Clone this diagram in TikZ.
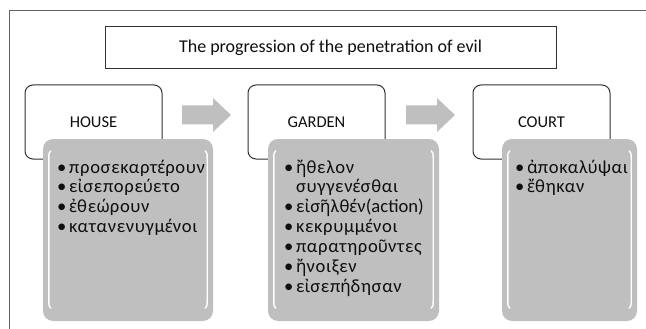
\documentclass[tikz,border=0pt]{standalone}
\usepackage{fontspec}
\setmainfont{Carlito}
\newfontfamily\grkfb[Scale=0.92]{Noto Sans}
\newfontfamily\lsfont[LetterSpace=3.5]{Carlito}
\newcommand{\gbd}[1]{{\grkfb\bfseries #1}}
\newcommand{\grg}[1]{{\grkfb #1}}
\newcommand{\itm}{\makebox[12pt][l]{\textbullet}}
\newcommand{\cnt}{\hspace*{12pt}}
\newenvironment{gklist}{\begin{minipage}[t]{160pt}\lsfont\fontsize{18.6}{19.9}\selectfont
  \lineskiplimit=-100pt\parindent=0pt\raggedright}{\end{minipage}}
\usetikzlibrary{calc}
\definecolor{boxgray}{RGB}{191,191,191}
\definecolor{framecol}{RGB}{100,100,100}
\definecolor{bordercol}{RGB}{50,50,50}
\definecolor{txtcol}{RGB}{15,15,15}
\tikzset{
  labelbox/.style={draw=bordercol, line width=1pt, rounded corners=8pt, fill=white,
    minimum width=137pt, minimum height=74pt, inner sep=0pt, text=txtcol,
    font=\fontsize{16.5}{20}\selectfont},
  titlebox/.style={draw=bordercol, line width=1pt, fill=white, minimum width=451pt,
    minimum height=42pt, inner sep=0pt, text=txtcol, font=\fontsize{18}{22}\selectfont},
  graybox/.style={fill=boxgray, rounded corners=10pt, inner sep=0pt, minimum height=182pt},
  blockarrow/.style={fill=boxgray},
  listtext/.style={anchor=base west, inner sep=0pt, text=txtcol},
  hl/.style={draw=white, line width=1.4pt, line cap=round},
  framel/.style={draw=framecol, line width=1pt}
}
\newcommand{\hilite}[1]{%
  \draw[hl] ($(#1.north west)+(8,12)$) .. controls ($(#1.north west)+(6,14)$) .. ($(#1.north west)+(6,21)$)
     -- ($(#1.south west)+(6,-22)$) .. controls ($(#1.south west)+(6,-15)$) .. ($(#1.south west)+(8,-13)$);
  \draw[hl] ($(#1.north east)+(-8,12)$) .. controls ($(#1.north east)+(-6,14)$) .. ($(#1.north east)+(-6,21)$)
     -- ($(#1.south east)+(-6,-22)$) .. controls ($(#1.south east)+(-6,-15)$) .. ($(#1.south east)+(-8,-13)$);
}
\newcommand{\blockarr}[1]{%
  \fill[blockarrow] (#1) ++(0,-9.5) -- ++(31,0) -- ++(0,-7.5) -- ++(18,17) -- ++(-18,17)
     -- ++(0,-7.5) -- ++(-31,0) -- cycle;
}
\begin{document}
\begin{tikzpicture}[x=1pt,y=-1pt]
\useasboundingbox (0,0) rectangle (646,329);
% frame
\coordinate (fbl) at (9,329);
\coordinate (ftl) at (9,11);
\coordinate (ftr) at (646,11);
\draw[framel] (fbl) -- (ftl) -- (ftr);
% title
\node[titlebox] (title) at (330.5,48) {The progression of the penetration of evil};
% label boxes
\node[labelbox] (house) at (93.5,122) {HOUSE};
\node[labelbox] (garden) at (316.5,122) {GARDEN};
\node[labelbox] (court) at (541.5,122) {COURT};
% arrows
\coordinate (arr1) at (182,115);
\coordinate (arr2) at (406,115);
\blockarr{arr1}
\blockarr{arr2}
% gray boxes
\node[graybox, minimum width=170pt] (hlist) at (128,230) {};
\node[graybox, minimum width=171pt] (glist) at (353.5,230) {};
\node[graybox, minimum width=135pt] (clist) at (569.5,230) {};
\hilite{hlist}
\hilite{glist}
\hilite{clist}
% lists
\node[listtext] (htext) at (57,173) {\begin{gklist}
\itm προσεκαρτ\gbd{έ}ρουν\\
\itm ε\grg{ἰ}σεπορε\gbd{ύ}ετο\\
\itm \gbd{ἐ}θε\gbd{ώ}ρουν\\
\itm κατανενυγμ\gbd{έ}νοι
\end{gklist}};
\node[listtext] (gtext) at (284,173) {\begin{gklist}
\itm \gbd{ἤ}θελον\\
\cnt συγγεν\gbd{έ}σθαι\\
\itm ε\grg{ἰ}σ\gbd{ῆ}λθ\gbd{έ}ν{\normalfont(action)}\\
\itm κεκρυμμ\gbd{έ}νοι\\
\itm παρατηρο\gbd{ῦ}ντες\\
\itm \gbd{ἤ}νοιξεν\\
\itm ε\grg{ἰ}σεπ\gbd{ή}δησαν
\end{gklist}};
\node[listtext] (ctext) at (515,173) {\begin{gklist}
\itm \gbd{ἀ}ποκαλ\gbd{ύ}ψαι\\
\itm \gbd{ἔ}θηκαν
\end{gklist}};
\end{tikzpicture}
\end{document}
